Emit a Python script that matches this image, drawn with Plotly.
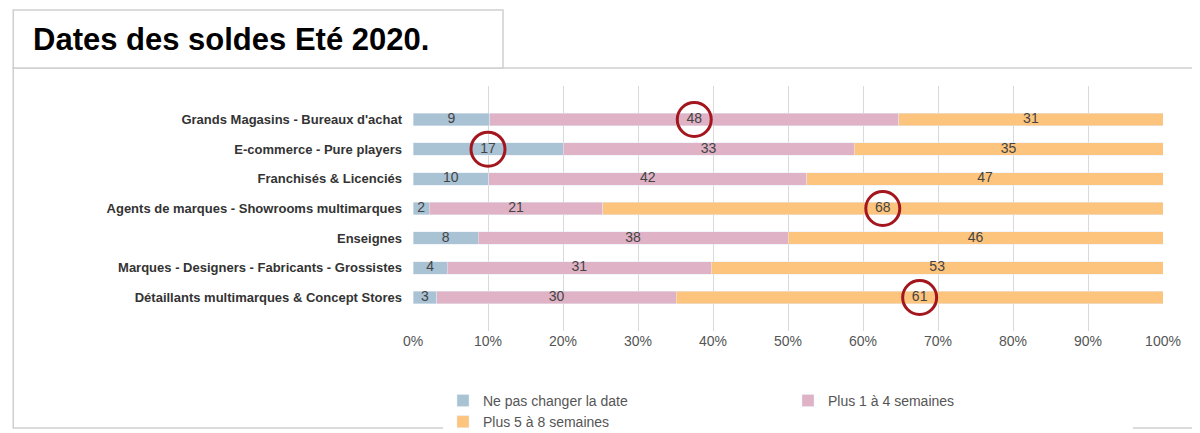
import plotly.graph_objects as go

categories = [
    "Grands Magasins - Bureaux d'achat",
    "E-commerce - Pure players",
    "Franchisés & Licenciés",
    "Agents de marques - Showrooms multimarques",
    "Enseignes",
    "Marques - Designers - Fabricants - Grossistes",
    "Détaillants multimarques & Concept Stores",
]
no_change = [9, 17, 10, 2, 8, 4, 3]
plus_1_4 = [48, 33, 42, 21, 38, 31, 30]
plus_5_8 = [31, 35, 47, 68, 46, 53, 61]
series_names = ["Ne pas changer la date", "Plus 1 à 4 semaines", "Plus 5 à 8 semaines"]
colors = ["#a9c2d4", "#dfb3c5", "#fdc47e"]
# which segment is circled in each row (0,1,2) or None
circled = [1, 0, None, 2, None, None, 2]

fig = go.Figure()
all_series = [no_change, plus_1_4, plus_5_8]
for name, vals, c in zip(series_names, all_series, colors):
    fig.add_trace(go.Bar(
        y=categories, x=vals, name=name, orientation="h", marker_color=c,
        width=0.42, hoverinfo="x+name",
    ))

# value labels and circles at segment midpoints (in percent of row total)
lx, ly, lt, cx, cy = [], [], [], [], []
for i in range(len(categories)):
    row = [s[i] for s in all_series]
    tot = sum(row)
    start = 0
    for seg, v in enumerate(row):
        mid = (start + v / 2) / tot * 100
        lx.append(mid); ly.append(categories[i]); lt.append(str(v))
        if circled[i] == seg:
            cx.append(mid); cy.append(categories[i])
        start += v
fig.add_trace(go.Scatter(
    x=lx, y=ly, text=lt, mode="text", showlegend=False, hoverinfo="skip",
    textfont=dict(color="#444", size=14),
))
fig.add_trace(go.Scatter(
    x=cx, y=cy, mode="markers", showlegend=False, hoverinfo="skip",
    marker=dict(symbol="circle-open", size=34, color="#a3161e",
                line=dict(color="#a3161e", width=3)),
))

fig.update_layout(
    barmode="stack", barnorm="percent",
    width=1200, height=433,
    margin=dict(l=405, r=45, t=78, b=110, autoexpand=False),
    paper_bgcolor="white", plot_bgcolor="white",
    font=dict(family="Liberation Sans, Arial, sans-serif", size=14, color="#555"),
    legend=dict(orientation="h", x=0.5, xanchor="center", y=-0.22, yanchor="top",
                entrywidth=300, font=dict(size=14, color="#555"), traceorder="normal"),
)
fig.update_xaxes(range=[0, 100], dtick=10, ticksuffix="%", showgrid=True,
                 gridcolor="#d9d9d9", zeroline=False, ticks="", tickfont=dict(size=14))
fig.update_yaxes(autorange="reversed", ticklabelstandoff=10,
                 tickfont=dict(size=13, color="#333", family="Liberation Sans, Arial"),
                 tickvals=categories, ticktext=[f"<b>{c}</b>" for c in categories])

# frame around chart
fig.add_shape(type="rect", xref="paper", yref="paper",
              x0=-0.533, x1=1.047, y0=-0.396, y1=1.073,
              line=dict(color="#cfcfcf", width=1.5), layer="below")
# title box
fig.add_shape(type="rect", xref="paper", yref="paper",
              x0=-0.533, x1=0.12, y0=1.073, y1=1.31,
              line=dict(color="#cfcfcf", width=1.5), fillcolor="white")
fig.add_annotation(text="<b>Dates des soldes Eté 2020.</b>", xref="paper", yref="paper",
                   x=-0.51, y=1.19, xanchor="left", yanchor="middle", showarrow=False,
                   font=dict(size=31, color="black", family="Liberation Sans, Arial"))

fig.write_html("out.html")
